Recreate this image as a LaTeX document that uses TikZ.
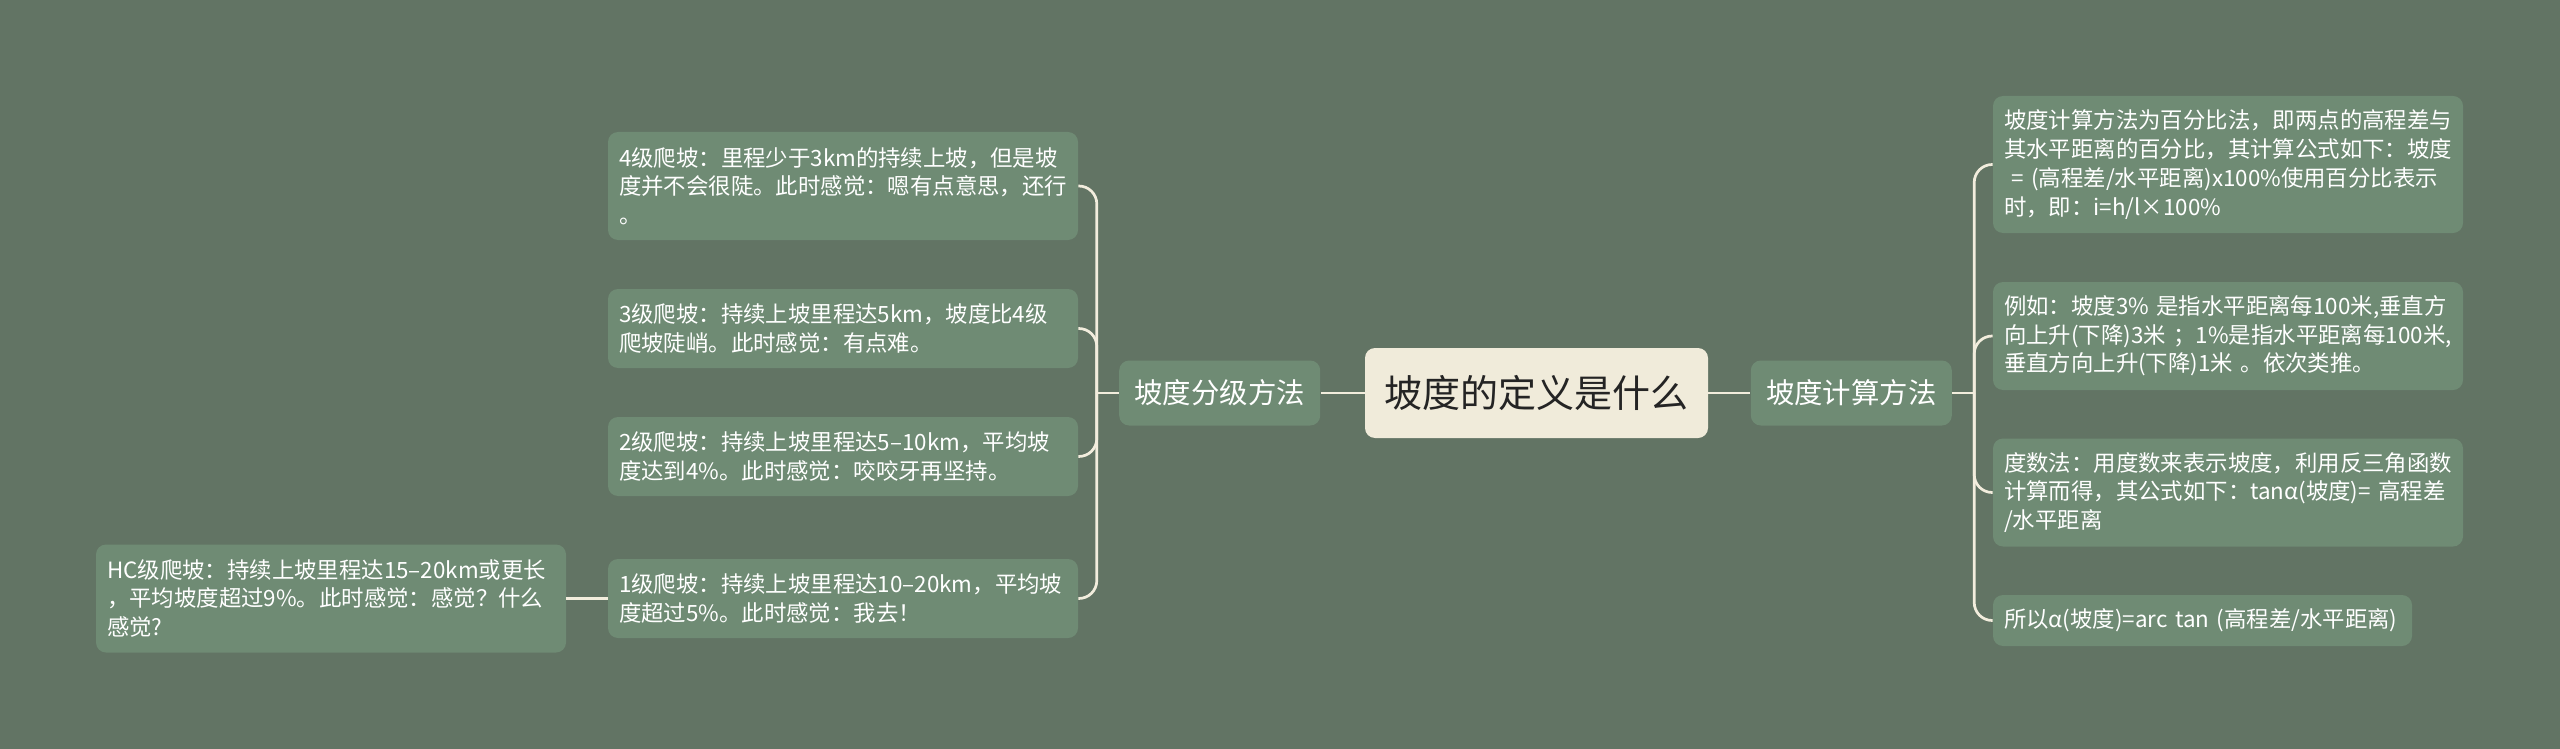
\documentclass[tikz,border=0pt]{standalone}
\usepackage{fontspec}
\setmainfont{Noto Sans CJK SC}
\usepackage{xcolor}
\usetikzlibrary{positioning,calc}

\definecolor{bgcol}{RGB}{98,116,100}
\definecolor{leafcol}{RGB}{111,139,116}
\definecolor{rootcol}{RGB}{240,235,218}
\definecolor{linecol}{RGB}{242,237,221}
\definecolor{inkcol}{RGB}{36,36,36}

\begin{document}
\exhyphenpenalty=10000
\hyphenpenalty=10000
\begin{tikzpicture}[
		x=0.5pt, y=-0.5pt,
		box/.style={fill=leafcol, rounded corners=5pt, text=white, inner sep=0pt},
		root/.style={box, fill=rootcol, text=inkcol, minimum width=171.5pt, minimum height=45pt,
			font=\fontsize{19}{22}\selectfont},
		topic/.style={box, minimum width=100.5pt, minimum height=32.5pt,
			font=\fontsize{14.2}{17}\selectfont},
		leaf/.style={box, align=left, inner xsep=5.5pt, text width=224pt,
			font=\fontsize{11.2}{14.35}\selectfont},
		one/.style={minimum height=25.5pt},
		two/.style={minimum height=39.5pt},
		three/.style={minimum height=54pt},
		four/.style={minimum height=68.5pt},
		link/.style={draw=linecol, line width=1.35pt},
		elbow/.style={link, rounded corners=9pt}
		]
		\useasboundingbox (0,0) rectangle (2560,749);
		\fill[bgcol] (0,0) rectangle (2560,749);
		\node[root] (root) at (1536.5,393) {坡度的定义是什么};
		\node[topic, left=22pt of root] (grade) {坡度分级方法};
		\node[topic, right=21pt of root] (calc) {坡度计算方法};
		\node[leaf, three] (g4) at (843,186)
		{4级爬坡：里程少于3km的持续上坡，但是坡\\度并不会很陡。此时感觉：嗯有点意思，还行\\。};
		\node[leaf, two] (g3) at (843,328.5)
		{3级爬坡：持续上坡里程达5km，坡度比4级\\爬坡陡峭。此时感觉：有点难。};
		\node[leaf, two] (g2) at (843,456.5)
		{2级爬坡：持续上坡里程达5–10km，平均坡\\度达到4\%。此时感觉：咬咬牙再坚持。};
		\node[leaf, two] (g1) at (843,598.5)
		{1级爬坡：持续上坡里程达10–20km，平均坡\\度超过5\%。此时感觉：我去！};
		\node[leaf, three] (ghc) at (331,598.5)
		{HC级爬坡：持续上坡里程达15–20km或更长\\，平均坡度超过9\%。此时感觉：感觉？什么\\感觉?};
		\node[leaf, four] (c1) at (2228,164.5)
		{坡度计算方法为百分比法，即两点的高程差与\\其水平距离的百分比，其计算公式如下：坡度\\~=~(高程差/水平距离)x100\%使用百分比表示\\时，即：i=h/l×100\%};
		\node[leaf, three] (c2) at (2228,336)
		{例如：坡度3\%~是指水平距离每100米,垂直方\\向上升(下降)3米~；1\%是指水平距离每100米,\\垂直方向上升(下降)1米~。依次类推。};
		\node[leaf, three] (c3) at (2228,492.5)
		{度数法：用度数来表示坡度，利用反三角函数\\计算而得，其公式如下：tanα(坡度)=~高程差\\/水平距离};
		\node[leaf, one, text width=198.5pt] (c4) at (2202.5,620.5)
		{所以α(坡度)=arc~tan~(高程差/水平距离)};
		\coordinate (gspine) at ($(grade.west)+(-11pt,0)$);
		\coordinate (cspine) at ($(calc.east)+(11pt,0)$);
		\draw[link] (root.west) -- (grade.east);
		\draw[link] (root.east) -- (calc.west);
		\draw[link] (grade.west) -- (gspine);
		\draw[link] (calc.east) -- (cspine);
		\foreach \n in {g4,g3,g2,g1}
		\draw[elbow] (gspine) |- (\n.east);
		\foreach \n in {c1,c2,c3,c4}
		\draw[elbow] (cspine) |- (\n.west);
		\draw[link] (g1.west) -- (ghc.east);
	\end{tikzpicture}
\end{document}
